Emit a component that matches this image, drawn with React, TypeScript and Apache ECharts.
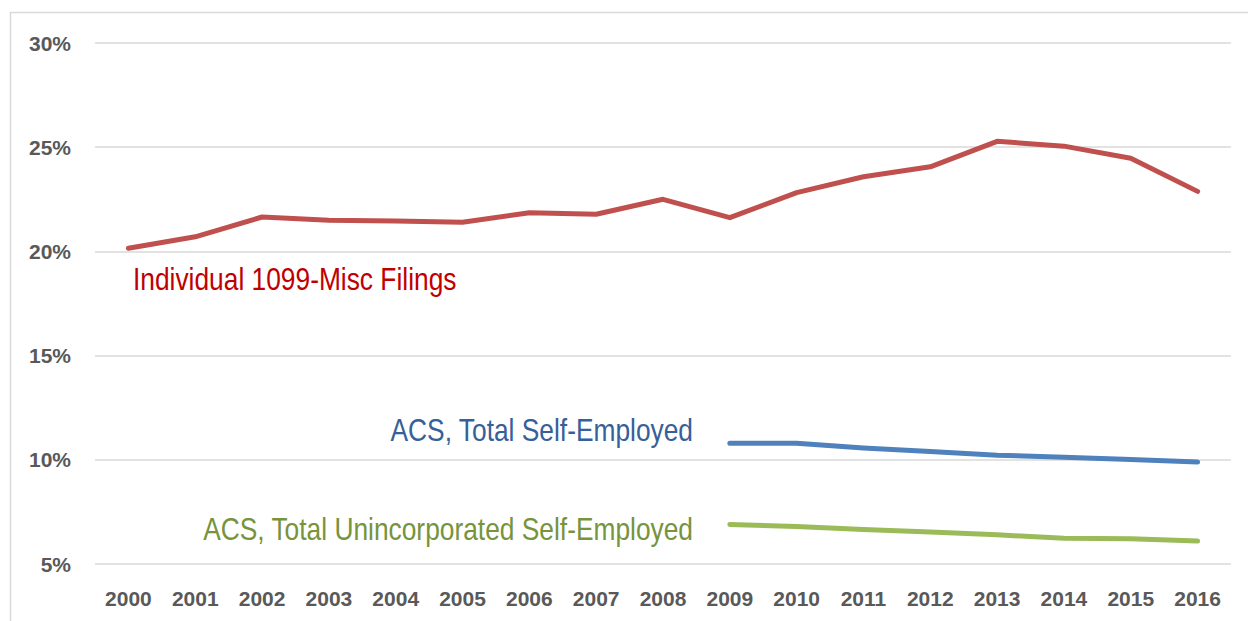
import React, { useEffect, useRef } from "react";
import * as echarts from "echarts";

const years = ["2000","2001","2002","2003","2004","2005","2006","2007","2008","2009","2010","2011","2012","2013","2014","2015","2016"];
const filings1099 = [20.15, 20.7, 21.65, 21.5, 21.46, 21.4, 21.85, 21.78, 22.5, 21.62, 22.82, 23.58, 24.06, 25.28, 25.05, 24.47, 22.88];
const acsTotal = [null, null, null, null, null, null, null, null, null, 10.79, 10.79, 10.57, 10.4, 10.22, 10.12, 10.01, 9.89];
const acsUninc = [null, null, null, null, null, null, null, null, null, 6.9, 6.8, 6.66, 6.53, 6.4, 6.23, 6.21, 6.1];
const seriesNames = ["Individual 1099-Misc Filings", "ACS, Total Self-Employed", "ACS, Total Unincorporated Self-Employed"];

const FONT = '"Liberation Sans Narrow", "Arial Narrow", "Liberation Sans", Arial, sans-serif';

export default function App() {
  const ref = useRef<HTMLDivElement>(null);
  useEffect(() => {
    if (!ref.current) return;
    const chart = echarts.init(ref.current, null, { renderer: "svg" });
    const lineStyle = (c: string) => ({ color: c, width: 5, cap: "round", join: "round" });
    const note = (text: string, x: number, y: number, fill: string, align: string) => ({
      type: "text", x, y, scaleX: 0.85,
      style: { text, fill, font: `31px ${FONT}`, textVerticalAlign: "middle", textAlign: align },
    });
    chart.setOption({
      animation: false,
      textStyle: { fontFamily: FONT },
      grid: { left: 95, right: 17, top: 43, bottom: 57 },
      xAxis: {
        type: "category",
        data: years,
        boundaryGap: true,
        axisLine: { show: false },
        axisTick: { show: false },
        axisLabel: { interval: 0, fontFamily: FONT, fontSize: 21, fontWeight: "bold", color: "#595959", margin: 24 },
      },
      yAxis: {
        type: "value",
        min: 5,
        max: 30,
        interval: 5,
        axisLine: { show: false },
        axisTick: { show: false },
        splitLine: { lineStyle: { color: "#D9D9D9", width: 1.5 } },
        axisLabel: { fontFamily: FONT, fontSize: 21, fontWeight: "bold", color: "#595959", margin: 24, formatter: "{value}%" },
      },
      graphic: [
        { type: "rect", shape: { x: 10.5, y: 12.5, width: 1400, height: 800 }, style: { fill: "none", stroke: "#D9D9D9", lineWidth: 1.5 }, silent: true },
        note(seriesNames[0], 133, 279, "#C00000", "left"),
        note(seriesNames[1], 693, 430, "#366099", "right"),
        note(seriesNames[2], 693, 529, "#77933C", "right"),
      ],
      series: [
        { name: seriesNames[0], type: "line", data: filings1099, symbol: "none", lineStyle: lineStyle("#C0504D") },
        { name: seriesNames[1], type: "line", data: acsTotal, symbol: "none", lineStyle: lineStyle("#4F81BD") },
        { name: seriesNames[2], type: "line", data: acsUninc, symbol: "none", lineStyle: lineStyle("#9BBB59") },
      ],
    });
    return () => chart.dispose();
  }, []);
  return <div ref={ref} style={{ position: "fixed", left: 0, top: 0, width: 1248, height: 621, background: "#fff" }} />;
}
